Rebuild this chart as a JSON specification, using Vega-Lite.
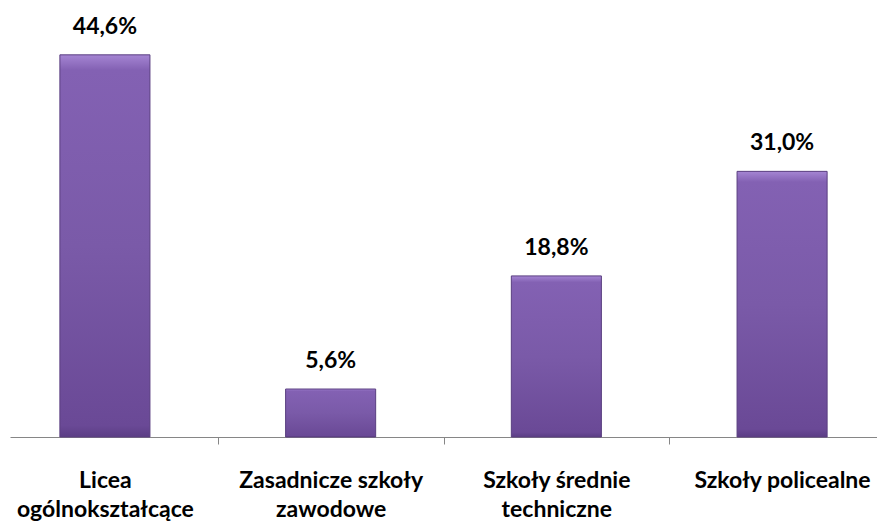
{
  "$schema": "https://vega.github.io/schema/vega-lite/v6.json",
  "width": 867,
  "height": 437,
  "autosize": {"type": "none"},
  "padding": {"left": 10, "top": 0, "right": 0, "bottom": 85},
  "background": "white",
  "config": {"view": {"stroke": null}},
  "data": {
    "values": [
      {"kategoria": "Licea|ogólnokształcące", "udzial": 44.6, "etykieta": "44,6%"},
      {"kategoria": "Zasadnicze szkoły|zawodowe", "udzial": 5.6, "etykieta": "5,6%"},
      {"kategoria": "Szkoły średnie|techniczne", "udzial": 18.8, "etykieta": "18,8%"},
      {"kategoria": "Szkoły policealne", "udzial": 31.0, "etykieta": "31,0%"}
    ]
  },
  "encoding": {
    "x": {
      "field": "kategoria",
      "type": "nominal",
      "sort": null,
      "scale": {"paddingInner": 0.601, "paddingOuter": 0.221},
      "axis": {
        "title": null,
        "labelAngle": 0,
        "labelExpr": "split(datum.value, '|')",
        "labelFont": "Lato",
        "labelFontWeight": "bold",
        "labelFontSize": 23,
        "labelColor": "#000000",
        "labelLineHeight": 29,
        "labelPadding": 25,
        "labelBaseline": "top",
        "labelLimit": 0,
        "labelOffset": -113,
        "tickOffset": 113,
        "tickSize": 7,
        "tickColor": "#868686",
        "domainColor": "#868686",
        "domainWidth": 1,
        "grid": false
      }
    },
    "y": {
      "field": "udzial",
      "type": "quantitative",
      "scale": {"domain": [0, 51], "nice": false},
      "axis": null
    }
  },
  "layer": [
    {
      "mark": {
        "type": "bar",
        "stroke": "#5a3f80",
        "strokeWidth": 1,
        "fill": {
          "x1": 0, "y1": 0, "x2": 0, "y2": 1,
          "gradient": "linear",
          "stops": [
            {"offset": 0, "color": "#a585d3"},
            {"offset": 0.04, "color": "#8361b3"},
            {"offset": 0.5, "color": "#7a5aa8"},
            {"offset": 0.97, "color": "#6a4996"},
            {"offset": 1, "color": "#5b3d85"}
          ]
        }
      }
    },
    {
      "mark": {
        "type": "text",
        "baseline": "alphabetic",
        "dy": -21,
        "font": "Lato",
        "fontWeight": "bold",
        "fontSize": 23,
        "color": "#000000"
      },
      "encoding": {"text": {"field": "etykieta"}}
    }
  ]
}
